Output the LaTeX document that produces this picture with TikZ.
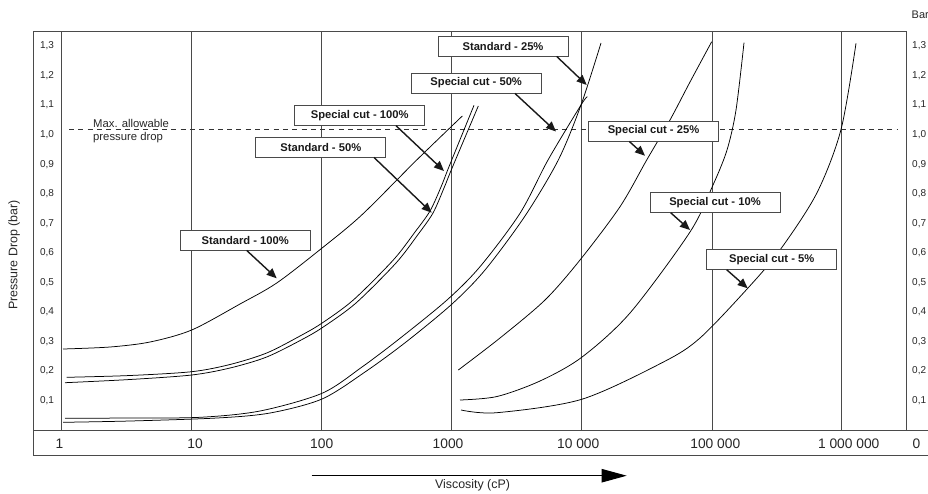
\documentclass[tikz,border=0pt]{standalone}
\usepackage{fontspec}
\setmainfont{Liberation Sans}
\usetikzlibrary{arrows.meta}
\definecolor{framecol}{HTML}{4A4A4A}
\definecolor{textcol}{HTML}{262626}
\begin{document}
\begin{tikzpicture}[x=1pt,y=-1pt,
  frameline/.style={draw=framecol,line width=1pt},
  gridline/.style={draw=framecol,line width=0.9pt},
  limitline/.style={draw=black!80,line width=0.8pt,dash pattern=on 5pt off 4.3pt},
  curveline/.style={draw=black,line width=0.75pt,smooth,tension=0.5},
  lbl/.style={draw=framecol,fill=white,line width=0.9pt,minimum width=130pt,minimum height=20pt,inner sep=0pt,text=black!90,font=\fontsize{11.2}{13}\selectfont\bfseries},
  pointer/.style={draw=black!90,line width=1.4pt,-{Triangle[length=10pt,width=8.5pt]}},
  ticklbl/.style={font=\fontsize{10}{12}\selectfont,text=textcol,inner sep=0pt},
  xticklbl/.style={font=\fontsize{13.8}{16}\selectfont,text=textcol,inner sep=0pt},
  axlbl/.style={font=\fontsize{12.4}{14}\selectfont,text=textcol,inner sep=0pt},
]
\useasboundingbox (0,0) rectangle (928,493);

% frame
\draw[frameline] (33,455.7) -- (33,31) -- (906,31) -- (906,430);
\draw[frameline] (33,430) -- (928,430);
\draw[frameline] (33,455.7) -- (928,455.7);
% decade grid lines
\foreach \gx in {61.5,191.5,321.7,451.7,581.5,712,841.7}
  \draw[gridline] (\gx,31) -- (\gx,430);

% max allowable pressure drop
\draw[limitline] (69,129.5) -- (897,129.5);
\node[anchor=base west,inner sep=0pt,text=textcol,font=\fontsize{11.3}{13}\selectfont] (maxa) at (93,127.3) {Max. allowable};
\node[anchor=base west,inner sep=0pt,text=textcol,font=\fontsize{11.3}{13}\selectfont] (maxb) at (93,140) {pressure drop};

% y tick labels
\foreach \yy/\tt [count=\i] in {46/{1,3},75.6/{1,2},105.1/{1,1},134.7/{1,0},164.2/{0,9},193.8/{0,8},223.3/{0,7},252.9/{0,6},282.4/{0,5},312/{0,4},341.5/{0,3},371.1/{0,2},400.7/{0,1}}{
  \node[ticklbl] (yl\i) at (47,\yy) {\tt};
  \node[ticklbl,anchor=west] (yr\i) at (912,\yy) {\tt};
}
\node[anchor=west,inner sep=0pt,text=textcol,font=\fontsize{11}{13}\selectfont] (bar) at (911.5,15) {Bar};

% x tick labels
\node[xticklbl] (x0) at (59.5,444) {1};
\node[xticklbl] (x1) at (195,444) {10};
\node[xticklbl] (x2) at (321.7,444) {100};
\node[xticklbl] (x3) at (448,444) {1000};
\node[xticklbl] (x4) at (578.2,444) {10 000};
\node[xticklbl] (x5) at (715.3,444) {100 000};
\node[xticklbl] (x6) at (848.7,444) {1 000 000};
\node[xticklbl] (x7) at (916.5,444) {0};

% axis titles
\node[axlbl,rotate=90] (ylab) at (14.2,255) {Pressure Drop (bar)};
\node[axlbl] (vlab) at (472.5,485.5) {Viscosity (cP)};
\coordinate (va) at (311.7,475.7);
\coordinate (vb) at (626.7,475.7);
\draw[line width=1pt,-{Triangle[length=25pt,width=13.4pt]}] (va) -- (vb);

% curves
% Standard - 100%
\draw[curveline] plot coordinates {(63,349) (110,347) (150,342) (191.7,330) (240,304) (276.7,283) (321.7,248.3) (361.7,215) (416.7,160) (462.3,116)};
% Standard - 50% / Special cut - 100%
\draw[curveline] plot coordinates {(66.7,377.3) (130,375.5) (191.7,371.7) (230,364.5) (266.7,353) (300,336) (321.7,323.3) (353.3,300) (393.3,260) (415,232) (430,211) (441,187) (449,166.7) (474,105.3)};
\draw[curveline] plot coordinates {(65,382.7) (130,379.5) (191.7,375) (230,368) (266.7,357) (303,339) (324,326.5) (356,303) (396,263) (418,234.5) (433,213) (444,188) (452.5,167) (478.3,106)};
% Special cut - 50%
\draw[curveline] plot coordinates {(65,418.3) (130,418) (200,417.3) (260,411) (322,393.3) (362,367) (400,338.3) (447,300) (480,266.7) (520,213.3) (548,160) (581,105) (587.3,96.7)};
% Standard - 25%
\draw[curveline] plot coordinates {(63,422.3) (130,421) (217,418) (270,413) (322,399) (365,372) (406,342) (452,304) (485,270) (525,216) (558.3,160) (581,105) (601,43)};
% Special cut - 25%
\draw[curveline] plot coordinates {(458.3,370) (500,338) (545,300) (580,260) (620,206.7) (646.7,160) (670,120) (690,82) (711.7,41.7)};
% Special cut - 10%
\draw[curveline] plot coordinates {(460,400) (497,396.5) (540,381) (581.7,357.3) (630,313) (690,232) (713,185) (727,150) (736,110) (744,42.7)};
% Special cut - 5%
\draw[curveline] plot coordinates {(461,410) (496.7,412.7) (581.7,399.3) (664,361.7) (700,338) (747.7,288.3) (780,250) (816.7,193.3) (841,129.5) (856,43.3)};

% label boxes
\node[lbl] (s25) at (503,46) {Standard - 25\%};
\node[lbl] (c50) at (476.2,83) {Special cut - 50\%};
\node[lbl] (c100) at (359.7,115.2) {Special cut - 100\%};
\node[lbl] (s50) at (320.8,147) {Standard - 50\%};
\node[lbl] (c25) at (653.5,131) {Special cut - 25\%};
\node[lbl] (s100) at (245.3,240) {Standard - 100\%};
\node[lbl] (c10) at (715,202.3) {Special cut - 10\%};
\node[lbl] (c5) at (771.7,259.3) {Special cut - 5\%};

% pointer tips
\coordinate (ts25) at (586.7,85);
\coordinate (tc50) at (556,131.5);
\coordinate (tc100) at (444,171);
\coordinate (ts50) at (431.7,212.7);
\coordinate (tc25) at (645,155.7);
\coordinate (ts100) at (276.7,278.3);
\coordinate (tc10) at (690,230);
\coordinate (tc5) at (747.7,288.3);

\draw[pointer] ([xshift=53.7pt]s25.south) -- (ts25);
\draw[pointer] ([xshift=38.8pt]c50.south) -- (tc50);
\draw[pointer] ([xshift=36.3pt]c100.south) -- (tc100);
\draw[pointer] ([xshift=53.2pt]s50.south) -- (ts50);
\draw[pointer] ([xshift=-24.2pt]c25.south) -- (tc25);
\draw[pointer] ([xshift=1.4pt]s100.south) -- (ts100);
\draw[pointer] ([xshift=-44.3pt]c10.south) -- (tc10);
\draw[pointer] ([xshift=-45pt]c5.south) -- (tc5);
\end{tikzpicture}
\end{document}
